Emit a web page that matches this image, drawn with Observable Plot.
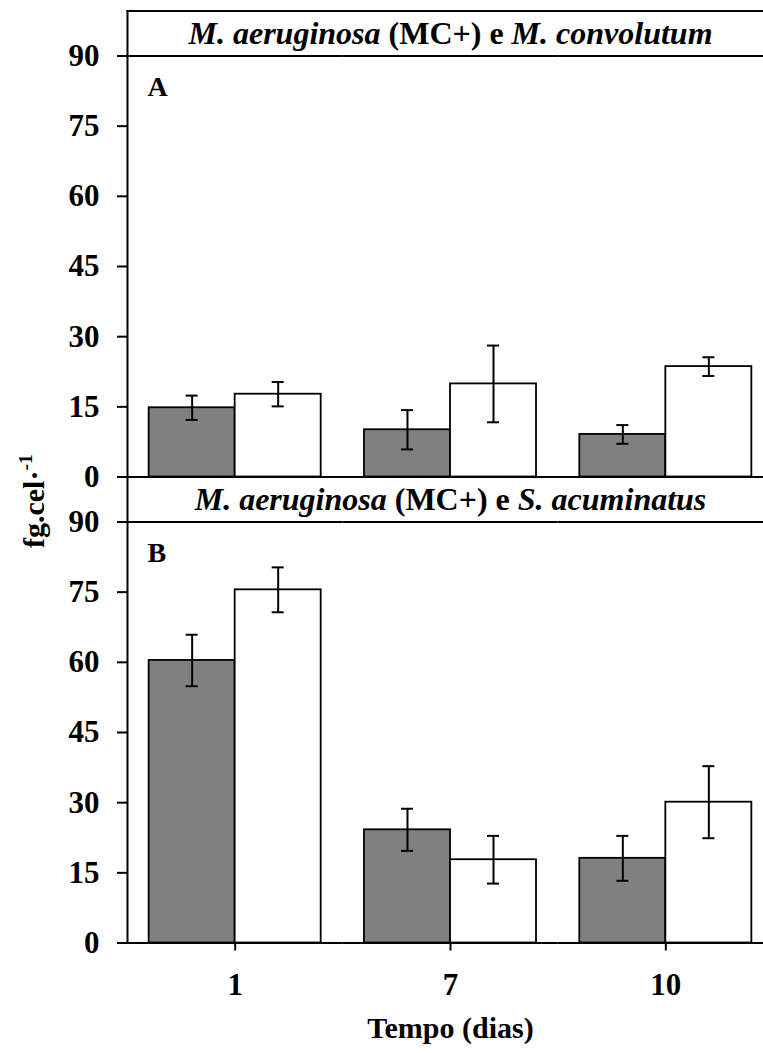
<!DOCTYPE html>
<html>
<head>
<meta charset="utf-8">
<script src="https://cdn.jsdelivr.net/npm/d3@7"></script>
<script src="https://cdn.jsdelivr.net/npm/@observablehq/plot@0.6"></script>
<style>
  body { margin: 0; background: #fff; }
  #chart { width: 763px; height: 1053px; overflow: hidden; }
</style>
</head>
<body>
<div id="chart"></div>
<script>
// ---------- data ----------
const days = ["1", "7", "10"];
const panels = ["A", "B"];
const series = ["Série 1", "Série 2"];          // gray, white
const meanA1 = [14.8, 10.1, 9.1];
const errA1  = [2.6, 4.2, 2.0];
const meanA2 = [17.7, 19.9, 23.6];
const errA2  = [2.6, 8.2, 2.0];
const meanB1 = [60.4, 24.2, 18.1];
const errB1  = [5.5, 4.5, 4.8];
const meanB2 = [75.5, 17.8, 30.1];
const errB2  = [4.8, 5.1, 7.7];
const yTicks = [0, 15, 30, 45, 60, 75, 90];
const headerA = [["M. aeruginosa", true], [" (MC+) e ", false], ["M. convolutum", true]];
const headerB = [["M. aeruginosa", true], [" (MC+) e ", false], ["S. acuminatus", true]];
const yLabelMain = "fg.cel·";
const yLabelSup = "-1";
const xLabel = "Tempo (dias)";

// ---------- tables ----------
const source = {
  A: [[meanA1, errA1], [meanA2, errA2]],
  B: [[meanB1, errB1], [meanB2, errB2]]
};
const table = [];
for (const p of panels) {
  source[p].forEach(([m, e], si) => {
    days.forEach((d, di) => table.push({panel: p, series: series[si], day: d, mean: m[di], err: e[di]}));
  });
}
const headerSegs = {A: headerA, B: headerB};
const headers = panels.map(p => ({panel: p, day: days[1], text: headerSegs[p].map(s => s[0]).join("")}));
const letters = panels.map(p => ({panel: p, day: days[0], text: p}));
const yLabelText = yLabelMain + yLabelSup;

const font = "'Liberation Serif', 'Times New Roman', serif";

const plot = Plot.plot({
  width: 763,
  height: 1053,
  marginLeft: 127,
  marginRight: -10,
  marginTop: 10.5,
  marginBottom: 110.5,
  style: {fontFamily: font, fontWeight: "bold", background: "white", color: "black"},
  fx: {domain: days, paddingInner: 0, paddingOuter: 0, round: false},
  fy: {domain: panels, paddingInner: 0, paddingOuter: 0, round: false, axis: null},
  x: {domain: series, paddingInner: 0, paddingOuter: 0.2517, round: false, axis: null},
  y: {domain: [0, 90], insetTop: 45},
  color: {domain: series, range: ["#808080", "#ffffff"]},
  marks: [
    Plot.barY(table, {fx: "day", fy: "panel", x: "series", y: "mean", fill: "series",
      stroke: "black", strokeWidth: 1.8, inset: 0}),
    Plot.ruleX(table, {fx: "day", fy: "panel", x: "series",
      y1: d => d.mean - d.err, y2: d => d.mean + d.err, stroke: "black", strokeWidth: 2}),
    Plot.tickY(table, {fx: "day", fy: "panel", x: "series", y: d => d.mean + d.err,
      insetLeft: 37, insetRight: 37, stroke: "black", strokeWidth: 2}),
    Plot.tickY(table, {fx: "day", fy: "panel", x: "series", y: d => d.mean - d.err,
      insetLeft: 37, insetRight: 37, stroke: "black", strokeWidth: 2}),
    Plot.ruleY(d3.extent(yTicks), {stroke: "black", strokeWidth: 2}),
    Plot.frame({anchor: "top", stroke: "black", strokeWidth: 2}),
    Plot.frame({anchor: "left", facetAnchor: "left", stroke: "black", strokeWidth: 2}),
    Plot.axisY({ticks: yTicks, tickSize: 10, tickPadding: 18, fontSize: 31, fontWeight: "bold",
      strokeWidth: 2, label: null}),
    Plot.axisFx({anchor: "bottom", tickSize: 8, tickPadding: 21.5, fontSize: 31, fontWeight: "bold",
      strokeWidth: 2, label: null}),
    Plot.text(headers, {fx: "day", fy: "panel", text: "text", frameAnchor: "top",
      dy: 22.5, lineAnchor: "middle", fontSize: 32, fontWeight: "bold"}),
    Plot.text(letters, {fx: "day", fy: "panel", text: "text", frameAnchor: "top-left",
      textAnchor: "start", dx: 20, dy: 76, lineAnchor: "middle", fontSize: 28, fontWeight: "bold"}),
    Plot.text([yLabelText], {facet: "super", text: d => d, frameAnchor: "left", rotate: -90,
      dx: -84, dy: 71, lineAnchor: "bottom", fontSize: 30, fontWeight: "bold"}),
    Plot.text([xLabel], {facet: "super", text: d => d, frameAnchor: "bottom",
      dy: 94.5, lineAnchor: "bottom", fontSize: 30, fontWeight: "bold"})
  ]
});

// rich text: italics in headers and superscript in y label
d3.select(plot).selectAll("text").each(function () {
  const t = this.textContent;
  const h = headers.find(h => h.text === t);
  const sel = d3.select(this);
  if (h) {
    sel.text(null);
    headerSegs[h.panel].forEach(([s, it]) =>
      sel.append("tspan").attr("font-style", it ? "italic" : null).text(s));
  } else if (t === yLabelText) {
    sel.text(null);
    sel.append("tspan").text(yLabelMain);
    sel.append("tspan").attr("font-size", "0.65em").attr("dy", "-0.6em").text(yLabelSup);
  }
});

document.getElementById("chart").append(plot);
</script>
</body>
</html>
